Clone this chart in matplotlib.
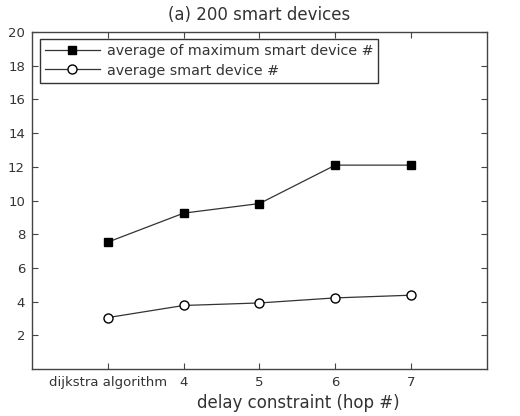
import numpy as np
import matplotlib.pyplot as plt

plt.rcParams['font.family'] = ['DejaVu Sans']

# data
x_labels = ['dijkstra algorithm', '4', '5', '6', '7']
max_devices = [7.53, 9.25, 9.82, 12.1, 12.1]
avg_devices = [3.05, 3.77, 3.92, 4.22, 4.38]

x = np.arange(1, len(x_labels) + 1)

fig = plt.figure(figsize=(5.2, 4.16), dpi=100)
ax = fig.add_axes([0.0615, 0.113, 0.875, 0.81])

ax.plot(x, max_devices, color='#333333', lw=0.9, marker='s', ms=6,
        mfc='black', mec='black', label='average of maximum smart device #')
ax.plot(x, avg_devices, color='#333333', lw=0.9, marker='o', ms=6.5,
        mfc='white', mec='black', label='average smart device #')

ax.set_xlim(0, 6)
ax.set_ylim(0, 20)
ax.set_xticks(x)
ax.set_xticklabels(x_labels)
ax.set_yticks(np.arange(2, 21, 2))

ax.tick_params(direction='in', top=True, right=True, length=4, width=0.8,
               labelsize=9.5, colors='#444444', labelcolor='#333333', pad=5)
for s in ax.spines.values():
    s.set_color('#444444')
    s.set_linewidth(1.0)

ax.set_title('(a) 200 smart devices', fontsize=12, color='#333333', pad=9)
ax.set_xlabel('delay constraint (hop #)', fontsize=12, color='#333333')
# the axis label sits right of centre in the original
ax.xaxis.set_label_coords(0.585, -0.075)

leg = ax.legend(loc='upper left', fontsize=10.3, frameon=True, fancybox=False,
                edgecolor='black', handlelength=3.8, borderpad=0.35,
                labelspacing=0.4, handletextpad=0.5, borderaxespad=0,
                bbox_to_anchor=(0.018, 0.98))
leg.get_frame().set_linewidth(1.0)
for t in leg.get_texts():
    t.set_color('#333333')

fig.savefig('out.png', dpi=100)
